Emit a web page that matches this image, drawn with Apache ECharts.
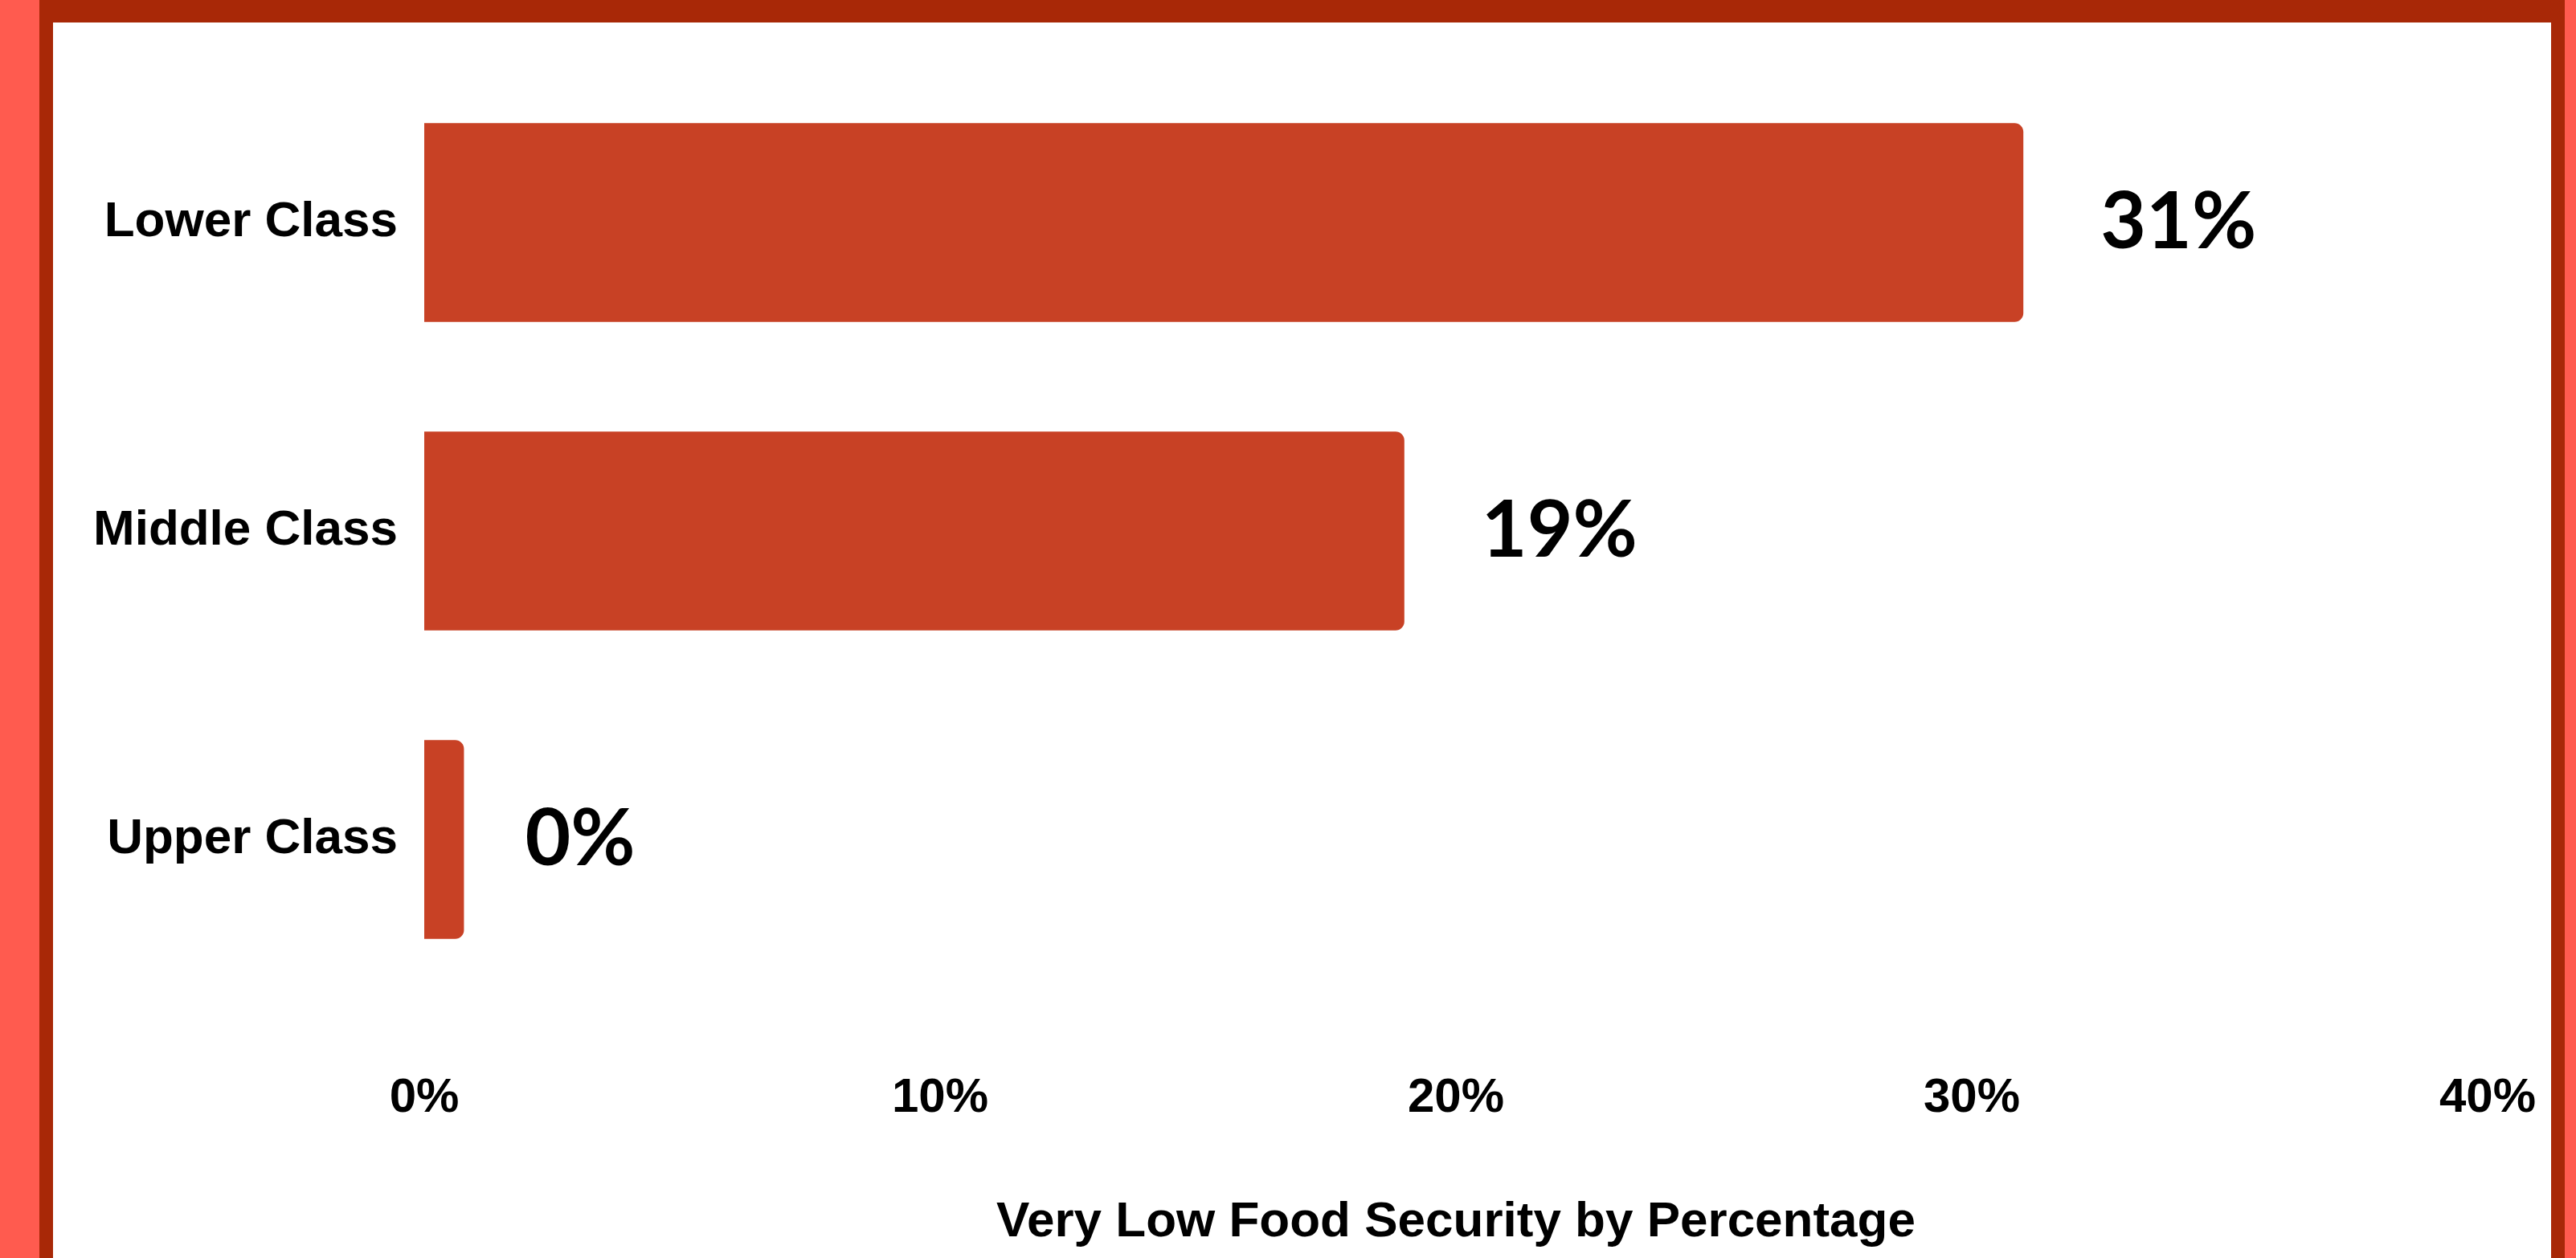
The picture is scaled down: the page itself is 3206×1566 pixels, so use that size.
<!DOCTYPE html>
<html>
<head>
<meta charset="utf-8">
<title>Very Low Food Security by Percentage</title>
<script src="https://cdn.jsdelivr.net/npm/echarts@6.0.0/dist/echarts.min.js"></script>
<style>
    html, body { margin: 0; padding: 0; }
    body { width: 3206px; height: 1566px; overflow: hidden; background: #ff5b4f; position: relative; }
    /* dark red frame around the white card */
    #frame { position: absolute; left: 49px; top: 0; width: 3143px; height: 1600px; background: #a82807; }
    #chart { position: absolute; left: 66px; top: 28px; width: 3109px; height: 1538px; background: #fff; }
</style>
</head>
<body>
<div id="frame"></div>
<div id="chart"></div>
<script>
//---- data
var categories = ["Lower Class", "Middle Class", "Upper Class"];
var values = [31, 19, 0.77];            //---the 0% bar is drawn as a small sliver
var valueLabels = ["31%", "19%", "0%"];
var xTicks = [0, 10, 20, 30, 40];       //---percent ticks on the x axis

var barColor = "#c84125";
var labelFont = "'Liberation Sans', Arial, Helvetica, sans-serif";

//---the tiny bar's label sits a bit closer to its bar
var seriesData = values.map(function (v, i) {
    var item = { value: v };
    if (i === values.length - 1) {
        item.label = { distance: 76 };
    }
    return item;
});

var myChart = echarts.init(document.getElementById("chart"));
var option = {
    animation: false,
    backgroundColor: "#fff",
    grid: {
        left: 462,
        right: 79,
        top: 57,
        bottom: 329,
        containLabel: false
    },
    xAxis: {
        type: "value",
        min: xTicks[0],
        max: xTicks[xTicks.length - 1],
        interval: xTicks[1] - xTicks[0],
        name: "Very Low Food Security by Percentage",
        nameLocation: "middle",
        nameGap: 285,
        nameTextStyle: {
            fontFamily: labelFont,
            fontWeight: "bold",
            fontSize: 62,
            color: "#000",
            verticalAlign: "middle"
        },
        axisLine: { show: false },
        axisTick: { show: false },
        splitLine: { show: false },
        axisLabel: {
            formatter: "{value}%",
            margin: 130,
            verticalAlign: "middle",
            fontFamily: labelFont,
            fontWeight: "bold",
            fontSize: 60,
            color: "#000"
        }
    },
    yAxis: {
        type: "category",
        data: categories,
        inverse: true,//---Lower Class on top
        axisLine: { show: false },
        axisTick: { show: false },
        splitLine: { show: false },
        axisLabel: {
            margin: 33,
            fontFamily: labelFont,
            fontWeight: "bold",
            fontSize: 62,
            color: "#000"
        }
    },
    series: [
        {
            type: "bar",
            data: seriesData,
            barCategoryGap: "35.5%",
            itemStyle: {
                color: barColor,
                borderRadius: [0, 11, 11, 0]
            },
            label: {
                show: true,
                position: "right",
                distance: 96,
                formatter: function (p) {
                    return valueLabels[p.dataIndex];
                },
                fontFamily: "Lato, 'Noto Sans', sans-serif",
                fontWeight: "bold",
                fontSize: 98,
                color: "#000"
            }
        }
    ]
};
myChart.setOption(option);
</script>
</body>
</html>
